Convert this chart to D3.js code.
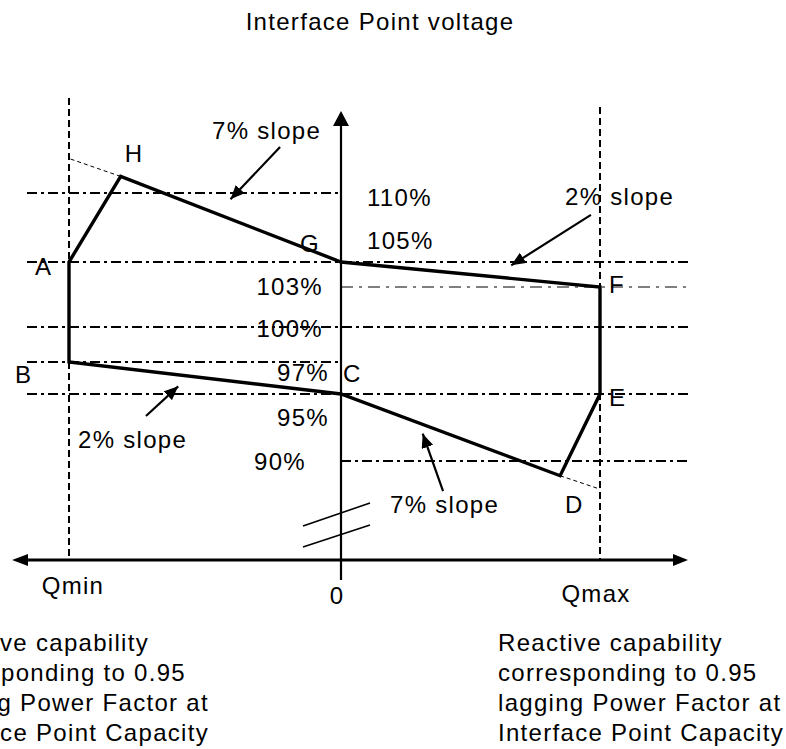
<!DOCTYPE html>
<html><head><meta charset="utf-8">
<script src="https://cdn.jsdelivr.net/npm/d3@7"></script>
<style>
html,body{margin:0;padding:0;background:#fff;overflow:hidden}
svg{display:block}
text{font-family:"Liberation Sans",Arial,Helvetica,sans-serif;font-size:24px;letter-spacing:1.3px;fill:#000}
</style></head><body>
<script>
// ---------- data ----------
const titleText = "Interface Point voltage";
const qStops = [-1, 0, 1];                 // Qmin, 0, Qmax (reactive power, schematic units)
const qLabels = ["Qmin", "0", "Qmax"];
const voltageLevels = [110, 105, 103, 100, 97, 95, 90];
const voltageLabels = ["110%", "105%", "103%", "100%", "97%", "95%", "90%"];
const levelSide = ["left", "both", "right", "both", "left", "both", "right"];
const levelThin = [false, false, true, false, false, false, false];
// capability polygon A-H-G-F-E-D-C-B
const pointNames = ["A", "H", "G", "F", "E", "D", "C", "B"];
const pointQ = [-1, -0.81, 0, 1, 1, 0.846, 0, -1];
const pointV = [105, 111.2, 105, 103, 95, 88.9, 95, 97];
// thin dotted extensions of the 7% slopes to the Q limits
const extFrom = ["H", "D"];
const extQ = [-1, 1];
const extV = [112.5, 87.9];
// slope annotations
const slopeTexts = ["7% slope", "2% slope", "2% slope", "7% slope"];
const arrowTailQ = [-0.224, 0.965, -0.717, 0.394];
const arrowTailV = [113.33, 108.41, 93.36, 87.76];
const arrowTipQ = [-0.419, 0.641, -0.585, 0.309];
const arrowTipV = [109.28, 104.52, 95.69, 92.39];
const noteLines = ["Reactive capability", "corresponding to 0.95", "lagging Power Factor at", "Interface Point Capacity"];
const noteLinesLeft = ["Reactive capability", "corresponding to 0.95", "leading Power Factor at", "Interface Point Capacity"];

// ---------- layout ----------
const W = 786, H = 749;
const axisY = 560, plotLeft = 27, plotRight = 688;
const svg = d3.select("body").append("svg").attr("width", W).attr("height", H);

const x = d3.scaleLinear().domain(qStops).range([69, 341, 600]);
const y = d3.scaleLinear().domain([90, 95, 97, 100, 103, 105, 110]).range([461, 394, 362, 327, 287, 262, 193]);

const defs = svg.append("defs");
defs.append("marker").attr("id", "ah").attr("viewBox", "0 0 14 12")
  .attr("refX", 14).attr("refY", 6).attr("markerWidth", 14).attr("markerHeight", 12)
  .attr("markerUnits", "userSpaceOnUse").attr("orient", "auto")
  .append("path").attr("d", "M0,0L14,6L0,12Z").attr("fill", "#000");

// title
svg.append("text").attr("x", 380).attr("y", 30).attr("text-anchor", "middle").text(titleText);

// horizontal voltage reference lines
const levels = voltageLevels.map((v, i) => ({v, label: voltageLabels[i], side: levelSide[i], thin: levelThin[i]}));
svg.append("g").selectAll("line").data(levels).join("line")
  .attr("x1", d => d.side === "right" ? x(0) : plotLeft)
  .attr("x2", d => d.side === "left" ? x(0) : plotRight)
  .attr("y1", d => y(d.v)).attr("y2", d => y(d.v))
  .attr("stroke", "#000")
  .attr("stroke-width", d => d.thin ? 1 : 2)
  .attr("stroke-dasharray", d => d.thin ? "12,6,3,6" : "10,4,3,4");

// Qmin / Qmax dashed verticals
const limitTop = {"-1": 98, "1": 107};
svg.append("g").selectAll("line").data([-1, 1]).join("line")
  .attr("x1", d => x(d)).attr("x2", d => x(d))
  .attr("y1", d => limitTop[d]).attr("y2", axisY)
  .attr("stroke", "#000").attr("stroke-width", 2).attr("stroke-dasharray", "7,4");

// thin extensions
const pts = pointNames.map((n, i) => ({n, q: pointQ[i], v: pointV[i]}));
const byName = Object.fromEntries(pts.map(p => [p.n, p]));
svg.append("g").selectAll("line").data(extFrom.map((n, i) => ({a: byName[n], q: extQ[i], v: extV[i]}))).join("line")
  .attr("x1", d => x(d.a.q)).attr("y1", d => y(d.a.v))
  .attr("x2", d => x(d.q)).attr("y2", d => y(d.v))
  .attr("stroke", "#000").attr("stroke-width", 1).attr("stroke-dasharray", "4,3");

// axes
svg.append("line").attr("x1", plotLeft - 15 + 16).attr("x2", plotRight - 15).attr("y1", axisY).attr("y2", axisY)
  .attr("stroke", "#000").attr("stroke-width", 3.2);
svg.append("path").attr("d", `M12,${axisY}L28,${axisY - 6}L28,${axisY + 6}Z`).attr("fill", "#000");
svg.append("path").attr("d", `M${plotRight},${axisY}L${plotRight - 15},${axisY - 6}L${plotRight - 15},${axisY + 6}Z`).attr("fill", "#000");
svg.append("line").attr("x1", x(0)).attr("x2", x(0)).attr("y1", 122).attr("y2", axisY + 20)
  .attr("stroke", "#000").attr("stroke-width", 2.2);
svg.append("path").attr("d", `M${x(0)},111L${x(0) + 8},126L${x(0) - 8},126Z`).attr("fill", "#000");

// axis break marks
[[-34, -57], [-13, -35]].forEach(([a, b]) => {
  svg.append("line").attr("x1", x(0) - 38).attr("y1", axisY + a).attr("x2", x(0) + 29).attr("y2", axisY + b)
    .attr("stroke", "#000").attr("stroke-width", 1.6);
});

// capability polygon
svg.append("path")
  .attr("d", d3.line().x(d => x(d.q)).y(d => y(d.v)).curve(d3.curveLinearClosed)(pts))
  .attr("fill", "none").attr("stroke", "#000").attr("stroke-width", 3.4).attr("stroke-linejoin", "miter");

// slope arrows
const arrows = slopeTexts.map((t, i) => ({t, x1: x(arrowTailQ[i]), y1: y(arrowTailV[i]), x2: x(arrowTipQ[i]), y2: y(arrowTipV[i])}));
svg.append("g").selectAll("line").data(arrows).join("line")
  .attr("x1", d => d.x1).attr("y1", d => d.y1)
  .attr("x2", d => { const L = Math.hypot(d.x2 - d.x1, d.y2 - d.y1); return d.x2 - (d.x2 - d.x1) / L * 5; })
  .attr("y2", d => { const L = Math.hypot(d.x2 - d.x1, d.y2 - d.y1); return d.y2 - (d.y2 - d.y1) / L * 5; })
  .attr("stroke", "#000").attr("stroke-width", 2.2).attr("marker-end", "url(#ah)");

// slope labels (positioned near arrow tails)
const slopeLabelPos = [[212, 139], [565, 205], [78, 448], [390, 513]];
svg.append("g").selectAll("text").data(arrows).join("text")
  .attr("x", (d, i) => slopeLabelPos[i][0]).attr("y", (d, i) => slopeLabelPos[i][1]).text(d => d.t);

// voltage labels
const vLab = {
  "110%": [367, 13, "start"], "105%": [367, -13, "start"], "103%": [323, 8, "end"],
  "100%": [323, 10, "end"], "97%": [329, 19, "end"], "95%": [329, 32, "end"], "90%": [306, 9, "end"]
};
svg.append("g").selectAll("text").data(levels).join("text")
  .attr("x", d => vLab[d.label][0]).attr("y", d => y(d.v) + vLab[d.label][1])
  .attr("text-anchor", d => vLab[d.label][2]).text(d => d.label);

// point letters
const pLab = {A: [-34, 13], H: [4, -14], G: [-41, -10], F: [9, 6], E: [9, 12], D: [5, 37], C: [2, -12], B: [-54, 21]};
svg.append("g").selectAll("text").data(pts).join("text")
  .attr("x", d => x(d.q) + pLab[d.n][0]).attr("y", d => y(d.v) + pLab[d.n][1]).text(d => d.n);

// Q axis labels
const qLabY = [594, 604, 602];
const qLabDx = [4, -4, -4];
svg.append("g").selectAll("text").data(qStops).join("text")
  .attr("x", (d, i) => x(d) + qLabDx[i]).attr("y", (d, i) => qLabY[i])
  .attr("text-anchor", "middle").text((d, i) => qLabels[i]);

// notes
const leftEnds = [149, 186, 209, 209];
svg.append("g").selectAll("text").data(noteLinesLeft).join("text")
  .attr("x", (d, i) => leftEnds[i]).attr("y", (d, i) => 651 + i * 30)
  .attr("text-anchor", "end").text(d => d);
svg.append("g").selectAll("text").data(noteLines).join("text")
  .attr("x", 498).attr("y", (d, i) => 651 + i * 30).text(d => d);
</script>
</body></html>
